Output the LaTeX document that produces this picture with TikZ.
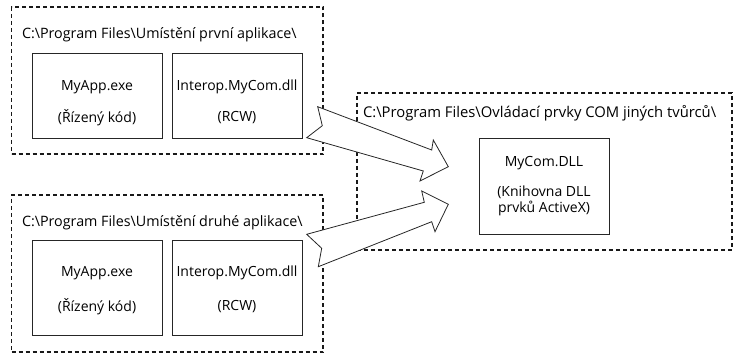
\documentclass[tikz,border=0pt]{standalone}
\usepackage{fontspec}
\setmainfont{Open Sans}
\begin{document}
\begin{tikzpicture}[x=1pt,y=-1pt,
  every node/.style={inner sep=0pt, outer sep=0pt},
  txt/.style={font=\fontsize{14}{15.5}\selectfont, text=black},
  titletxt/.style={txt, anchor=west, font=\fontsize{14.3}{16}\selectfont},
  grpbox/.style={draw=black!90, line width=1.3pt, dash pattern=on 4pt off 3pt, anchor=north west},
  itembox/.style={draw=black!85, line width=0.8pt, anchor=north west, fill=white},
  blockarrow/.style={draw=black!85, line width=0.8pt, fill=white, line join=miter}]
\useasboundingbox (0,0) rectangle (734,353);

% first application folder
\node[grpbox, minimum width=311.5pt, minimum height=147pt] (g1) at (11.5,7) {};
\node[titletxt] (t1) at (22,35) {C:\textbackslash Program Files\textbackslash Umístění první aplikace\textbackslash};
\node[itembox, minimum width=130pt, minimum height=85pt] (exe1) at (32,53) {};
\node[itembox, minimum width=130pt, minimum height=85pt] (rcw1) at (172,53) {};
\node[txt] (exe1a) at (97,87) {MyApp.exe};
\node[txt] (exe1b) at (97,118) {(Řízený kód)};
\node[txt] (rcw1a) at (237,87) {Interop.MyCom.dll};
\node[txt] (rcw1b) at (237,118) {(RCW)};

% second application folder
\node[grpbox, minimum width=311.5pt, minimum height=157pt] (g2) at (11.5,195) {};
\node[titletxt] (t2) at (22,223) {C:\textbackslash Program Files\textbackslash Umístění druhé aplikace\textbackslash};
\node[itembox, minimum width=130pt, minimum height=95pt] (exe2) at (32,240) {};
\node[itembox, minimum width=130pt, minimum height=95pt] (rcw2) at (172,240) {};
\node[txt] (exe2a) at (97,273) {MyApp.exe};
\node[txt] (exe2b) at (97,307) {(Řízený kód)};
\node[txt] (rcw2a) at (237,273) {Interop.MyCom.dll};
\node[txt] (rcw2b) at (237,307) {(RCW)};

% third-party COM controls folder
\node[grpbox, minimum width=375pt, minimum height=157pt] (g3) at (357,93) {};
\node[titletxt, font=\fontsize{14.8}{16}\selectfont] (t3) at (363,113) {C:\textbackslash Program Files\textbackslash Ovládací prvky COM jiných tvůrců\textbackslash};
\node[itembox, minimum width=130pt, minimum height=96pt] (com) at (479,138) {};
\node[txt] (coma) at (544,163) {MyCom.DLL};
\node[txt, align=center] (comb) at (544,201) {(Knihovna DLL\\prvků ActiveX)};

% block arrows from each application to the COM library
\coordinate (a1t) at (317.7,106.7);
\coordinate (a1n) at (322.3,125.7);
\coordinate (a1b) at (306.7,137.7);
\coordinate (a1l) at (423.3,171);
\coordinate (a1lb) at (420,181);
\coordinate (a1tip) at (448.3,166.7);
\coordinate (a1ub) at (433.3,140);
\coordinate (a1u) at (431.7,150);
\draw[blockarrow] (a1t) -- (a1n) -- (a1b) -- (a1l) -- (a1lb) -- (a1tip) -- (a1ub) -- (a1u) -- cycle;

\coordinate (a2t) at (306.7,234.3);
\coordinate (a2n) at (321.7,248.3);
\coordinate (a2b) at (318.3,266.7);
\coordinate (a2l) at (431.7,221.7);
\coordinate (a2lb) at (435,231.7);
\coordinate (a2tip) at (448.3,204.3);
\coordinate (a2ub) at (421.7,191);
\coordinate (a2u) at (424.3,202.3);
\draw[blockarrow] (a2t) -- (a2n) -- (a2b) -- (a2l) -- (a2lb) -- (a2tip) -- (a2ub) -- (a2u) -- cycle;
\end{tikzpicture}
\end{document}
